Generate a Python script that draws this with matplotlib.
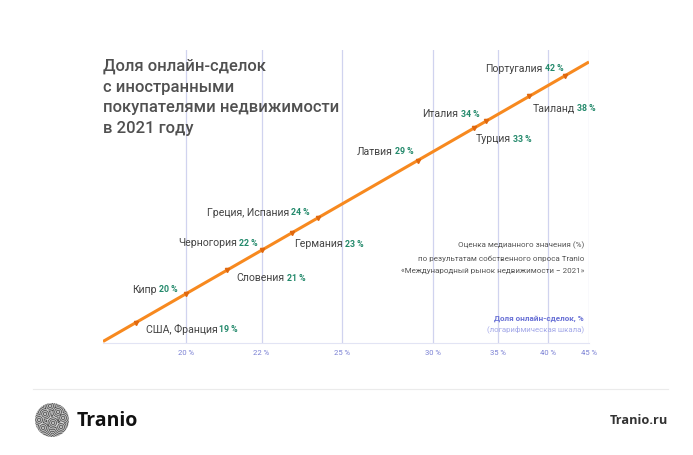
import numpy as np
import matplotlib
matplotlib.use("Agg")
import matplotlib.pyplot as plt
from matplotlib.patches import Circle

# --- data ---
countries = ["США, Франция", "Кипр", "Словения", "Черногория", "Германия",
             "Греция, Испания", "Латвия", "Турция", "Италия", "Таиланд", "Португалия"]
shares = [19, 20, 21, 22, 23, 24, 29, 33, 34, 38, 42]
tick_values = [20, 22, 25, 30, 35, 40, 45]
tick_labels = ["20 %", "22 %", "25 %", "30 %", "35 %", "40 %", "45 %"]

# label placement: side and offset in pixels from the marker
label_side = ["r", "l", "r", "l", "r", "l", "l", "r", "l", "r", "l"]
label_off = [(10, -7), (-8, 4), (10, -8), (-4, 7), (3, -11), (-8, 5),
             (-4, 9), (2, -11), (-7, 7), (4, -12), (-2, 7)]

TITLE = "Доля онлайн-сделок\nс иностранными\nпокупателями недвижимости\nв 2021 году"
NOTE = ("Оценка медианного значения (%)\nпо результатам собственного опроса Tranio\n"
        "«Международный рынок недвижимости − 2021»")

FONT = ["Roboto", "DejaVu Sans"]
W, H = 693, 455

fig = plt.figure(figsize=(W / 100, H / 100), dpi=100)
fig.patch.set_facecolor("white")
ax = fig.add_axes([103 / W, 1 - 343 / H, 486 / W, 293 / H])

# "log" scale used in the original: log(x - 15)
fwd = lambda v: np.log(np.maximum(np.asarray(v, float) - 15, 1e-9))
inv = lambda t: np.exp(t) + 15
ax.set_xscale("function", functions=(fwd, inv))
ax.set_yscale("function", functions=(fwd, inv))
ax.set_xlim(18.46, 45)
ax.set_ylim(18.42, 47.9)

for s in ["top", "right", "left"]:
    ax.spines[s].set_visible(False)
ax.spines["bottom"].set_color("#e2e4f4")
ax.spines["bottom"].set_linewidth(0.8)

ax.set_xticks(tick_values)
ax.set_xticklabels(tick_labels, family=FONT)
ax.xaxis.set_minor_locator(plt.NullLocator())
ax.yaxis.set_minor_locator(plt.NullLocator())
ax.set_yticks([])
ax.tick_params(axis="x", length=0, pad=5, labelsize=5.5, labelcolor="#7a80d4")
for t in tick_values:
    ax.axvline(t, color="#d0d3ef", lw=0.9, zorder=0)

x0, x1 = ax.get_xlim()
ax.plot([x0, x1], [x0, x1], color="#f7891f", lw=2.2, solid_capstyle="butt", zorder=2)
ax.plot(shares, shares, "v", ms=3, color="#e0680e", zorder=3)

name_kw = dict(fontsize=7.6, color="#444444", family=FONT, va="center")
pct_kw = dict(fontsize=6.3, weight="bold", color="#23896b", family=FONT, va="center")

for name, v, side, (dx, dy) in zip(countries, shares, label_side, label_off):
    if side == "r":
        t1 = ax.annotate(name, xy=(v, v), xytext=(dx, dy), textcoords="offset pixels",
                         ha="left", **name_kw)
        ax.annotate(f"{v} %", xy=(1, v), xycoords=(t1, "data"), xytext=(2, dy),
                    textcoords="offset pixels", ha="left", **pct_kw)
    else:
        t2 = ax.annotate(f"{v} %", xy=(v, v), xytext=(dx, dy), textcoords="offset pixels",
                         ha="right", **pct_kw)
        ax.annotate(name, xy=(0, v), xycoords=(t2, "data"), xytext=(-2, dy),
                    textcoords="offset pixels", ha="right", **name_kw)

# title and notes
fig.text(103 / W, 1 - 59 / H, TITLE, ha="left", va="top", fontsize=12,
         weight="medium", color="#505050", linespacing=1.45, family=FONT)
fig.text(584 / W, 1 - 241 / H, NOTE, ha="right", va="top", fontsize=5.8,
         color="#555555", linespacing=2.2, family=FONT)
fig.text(584 / W, 1 - 319 / H, "Доля онлайн-сделок, %", ha="right", va="center",
         fontsize=5.9, weight="bold", color="#6a72d6", family=FONT)
fig.text(584 / W, 1 - 329 / H, "(логарифмическая шкала)", ha="right", va="center",
         fontsize=5.6, color="#a3a8e8", family=FONT)

# footer
fig.add_artist(plt.Line2D([33 / W, 668 / W], [1 - 389 / H, 1 - 389 / H],
                          color="#ebebeb", lw=0.8))
fig.text(77 / W, 1 - 421 / H, "Tranio", ha="left", va="center", fontsize=14,
         weight="bold", color="#111111", family=["Open Sans"])
fig.text(668 / W, 1 - 421 / H, "Tranio.ru", ha="right", va="center", fontsize=9.2,
         weight="bold", color="#333333", family=["Open Sans"])

# logo: fingerprint-like disc
lax = fig.add_axes([34 / W, 1 - 438 / H, 36 / W, 36 / H])
gy, gx = np.mgrid[-18:18:0.2, -18:18:0.2]
centers = [(-7, 6), (6, 8), (1, -3), (-9, -8), (9, -7), (11, 2), (-2, 14), (-13, 0)]
d = np.min([np.hypot(gx - cx, gy - cy) for cx, cy in centers], axis=0)
pattern = 0.5 + 0.5 * np.cos(2 * np.pi * d / 1.7)
img = lax.imshow(pattern, cmap="Greys", extent=(-18, 18, -18, 18), origin="lower",
                 vmin=-0.1, vmax=1.1)
img.set_clip_path(Circle((0, 0), 17, transform=lax.transData))
lax.set_xlim(-18, 18)
lax.set_ylim(-18, 18)
lax.axis("off")

fig.savefig("out.png", dpi=100, facecolor="white")
